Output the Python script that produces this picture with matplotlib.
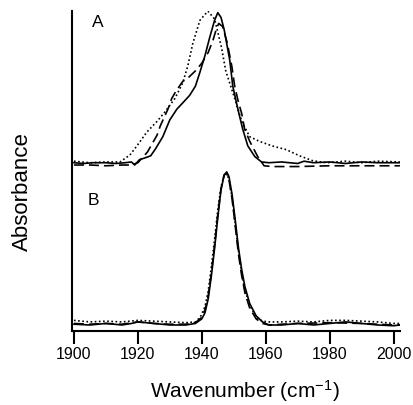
import matplotlib
matplotlib.use('Agg')
import matplotlib.pyplot as plt

plt.rcParams['font.family'] = ['Liberation Sans', 'DejaVu Sans']
plt.rcParams['mathtext.fontset'] = 'custom'
plt.rcParams['mathtext.rm'] = 'Liberation Sans'
plt.rcParams['mathtext.it'] = 'Liberation Sans:italic'

# panel A (upper), normalised absorbance
a_solid_x = [1900, 1903, 1906, 1910, 1913, 1916, 1918, 1919, 1920.5, 1922, 1924, 1925.5, 1927.8,
             1930, 1932.2, 1934, 1936.2, 1938, 1939.4, 1941, 1942.5, 1944, 1945, 1946, 1947, 1948.75,
             1949.7, 1951.3, 1952.8, 1954.4, 1956.6, 1958.7, 1961, 1965, 1970, 1972, 1975, 1980,
             1985, 1990, 1995, 2002]
a_solid_y = [0.0, -0.005, 0.0, 0.0, -0.005, 0.0, 0.005, -0.015, 0.02, 0.03, 0.045, 0.09, 0.17,
             0.28, 0.35, 0.39, 0.44, 0.5, 0.59, 0.7, 0.82, 0.93, 0.98, 0.95, 0.87, 0.67,
             0.5, 0.35, 0.22, 0.11, 0.04, 0.005, 0.0, 0.005, -0.005, 0.01, 0.0, 0.005,
             -0.005, 0.005, 0.0, 0.0]

a_dash_x = [1900, 1905, 1910, 1915, 1918, 1920, 1923, 1926, 1927, 1929.4, 1930.6, 1932, 1934,
            1936, 1938, 1940, 1942, 1943.5, 1944.5, 1945.3, 1946.5, 1948, 1949.4, 1950.3, 1951.3,
            1952.5, 1953.4, 1955, 1957.5, 1959.5, 1962, 1970, 1980, 1990, 2002]
a_dash_y = [-0.015, -0.015, -0.02, -0.015, -0.015, 0.0, 0.07, 0.18, 0.24, 0.35, 0.42, 0.47, 0.53,
            0.56, 0.6, 0.65, 0.72, 0.8, 0.87, 0.91, 0.89, 0.78, 0.63, 0.5, 0.41,
            0.32, 0.22, 0.14, 0.04, -0.02, -0.025, -0.025, -0.02, -0.02, -0.02]

a_dot_x = [1900, 1905, 1910, 1914.4, 1917.5, 1919.7, 1922.8, 1926, 1928.4, 1931.6, 1934, 1935.6,
           1937.2, 1939.4, 1941.9, 1944, 1946.2, 1947.5, 1948.75, 1950.3, 1952.5, 1955, 1958,
           1962, 1966.5, 1970.6, 1974.7, 1979, 1985, 1990, 1995, 2002]
a_dot_y = [0.01, 0.0, 0.005, 0.005, 0.05, 0.11, 0.2, 0.27, 0.33, 0.42, 0.52, 0.63,
           0.78, 0.93, 0.99, 0.94, 0.75, 0.6, 0.52, 0.42, 0.27, 0.17, 0.14,
           0.11, 0.085, 0.045, 0.013, 0.0, 0.01, 0.0, 0.01, 0.005]

# panel B (lower)
b_solid_x = [1900, 1905, 1910, 1915, 1918, 1920, 1925, 1930, 1935, 1938, 1940, 1941, 1942, 1943,
             1944, 1945, 1946, 1947, 1947.8, 1948.5, 1949.5, 1950.5, 1951.5, 1952.5, 1953.5, 1955,
             1957, 1959, 1961, 1965, 1970, 1975, 1980, 1985, 1990, 1995, 2000, 2002]
b_solid_y = [0.005, 0.0, 0.01, 0.0, 0.01, 0.02, 0.01, 0.0, 0.0, 0.01, 0.04, 0.08, 0.17, 0.32,
             0.5, 0.7, 0.88, 0.98, 1.0, 0.97, 0.85, 0.68, 0.5, 0.36, 0.25, 0.14,
             0.06, 0.02, 0.0, 0.0, 0.01, 0.0, 0.01, 0.02, 0.01, 0.0, -0.005, 0.0]

b_dash_x = [1900, 1905, 1910, 1915, 1920, 1925, 1930, 1935, 1938, 1940, 1941, 1942, 1943, 1944,
            1945, 1946, 1947, 1947.8, 1948.5, 1949.5, 1950.5, 1951.5, 1952.5, 1953.5, 1955, 1957,
            1959, 1961, 1965, 1970, 1980, 1990, 2000, 2002]
b_dash_y = [0.01, 0.005, 0.01, 0.005, 0.02, 0.01, 0.005, 0.005, 0.015, 0.05, 0.1, 0.19, 0.34, 0.52,
            0.72, 0.89, 0.98, 0.99, 0.95, 0.82, 0.64, 0.46, 0.32, 0.21, 0.11, 0.04,
            0.01, 0.0, 0.005, 0.01, 0.015, 0.01, 0.0, 0.0]

b_dot_x = [1900, 1905, 1910, 1915, 1920, 1925, 1930, 1935, 1938, 1939.5, 1941, 1942, 1943, 1944,
           1945, 1946, 1947, 1947.8, 1948.5, 1949.5, 1950.5, 1951.5, 1952.5, 1953.5, 1955, 1957,
           1959, 1961, 1965, 1970, 1975, 1980, 1985, 1990, 1995, 2000, 2002]
b_dot_y = [0.03, 0.02, 0.025, 0.02, 0.03, 0.025, 0.02, 0.015, 0.02, 0.05, 0.12, 0.22, 0.38, 0.56,
           0.75, 0.9, 0.98, 0.99, 0.95, 0.83, 0.66, 0.48, 0.34, 0.23, 0.13, 0.05,
           0.025, 0.02, 0.02, 0.025, 0.02, 0.03, 0.03, 0.025, 0.02, 0.01, 0.01]

offset_a = 1.06

fig = plt.figure(figsize=(4.14, 4.06), dpi=100)
ax = fig.add_axes([0.174, 0.182, 0.792, 0.788])

lw = 1.2
ax.plot(a_solid_x, [v + offset_a for v in a_solid_y], color='black', lw=lw, linestyle='-')
ax.plot(a_dash_x, [v + offset_a for v in a_dash_y], color='black', lw=lw, linestyle=(0, (6, 3)))
ax.plot(a_dot_x, [v + offset_a for v in a_dot_y], color='black', lw=lw, linestyle=(0, (1, 1.5)))

ax.plot(b_solid_x, b_solid_y, color='black', lw=lw, linestyle='-')
ax.plot(b_dash_x, b_dash_y, color='black', lw=lw, linestyle=(0, (6, 3)))
ax.plot(b_dot_x, b_dot_y, color='black', lw=lw, linestyle=(0, (1, 1.5)))

ax.text(1907.5, offset_a + 0.92, 'A', fontsize=12.5, ha='center', va='center')
ax.text(1906, 0.82, 'B', fontsize=12.5, ha='center', va='center')

ax.set_xlim(1899.4, 2002)
ax.set_ylim(-0.04, 2.05)
ax.set_xticks([1900, 1920, 1940, 1960, 1980, 2000])
ax.set_yticks([])
ax.tick_params(axis='x', direction='out', length=9, width=1.5, labelsize=11.5, pad=2)
for s in ['top', 'right']:
    ax.spines[s].set_visible(False)
for s in ['left', 'bottom']:
    ax.spines[s].set_linewidth(1.5)

ax.set_xlabel('Wavenumber (cm$^{\\mathrm{-1}}$)', fontsize=15, va='center')
ax.xaxis.set_label_coords(0.526, -0.185)
ax.set_ylabel('Absorbance', fontsize=16, va='center')
ax.yaxis.set_label_coords(-0.152, 0.44)

plt.savefig('out.png', dpi=100)
